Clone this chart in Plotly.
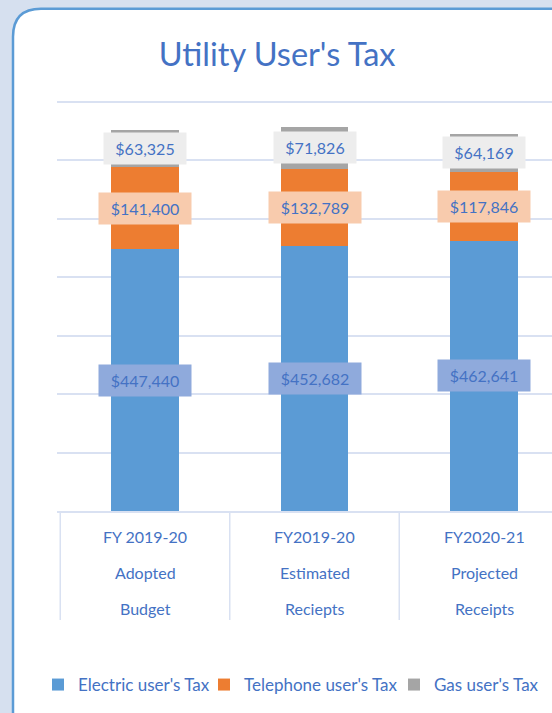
import plotly.graph_objects as go

# data
categories = ["FY 2019-20 Adopted Budget", "FY2019-20 Estimated Reciepts", "FY2020-21 Projected Receipts"]
cat_lines = [["FY 2019-20", "Adopted", "Budget"],
             ["FY2019-20", "Estimated", "Reciepts"],
             ["FY2020-21", "Projected", "Receipts"]]
electric = [447440, 452682, 462641]
telephone = [141400, 132789, 117846]
gas = [63325, 71826, 64169]

series = [
    ("Electric user's Tax", electric, "#5b9bd5", "#8faadc"),
    ("Telephone user's Tax", telephone, "#ed7d31", "#f8cbad"),
    ("Gas user's Tax", gas, "#a5a5a5", "#ededed"),
]
legend_left = [58, 224, 414]   # pixel x of each legend entry

W, H = 552, 713
Y_TOP = 710000
L, R, B = 57, 0, 202
T = (H - B) - 409 * Y_TOP / 700000   # 700k gridline sits at y=102
PW, PH = W - L - R, H - T - B
CAT_W = 169.5
BLUE = "#4472c4"
GRID = "#d9e1f2"
FONT = "Lato"

x0 = -0.5 - (60.25 - L) / CAT_W
xr = [x0, x0 + PW / CAT_W]

fig = go.Figure()
base = [0, 0, 0]
ann = []
legends = {}
for n, (name, vals, col, lab_bg) in enumerate(series):
    lg = "legend" if n == 0 else f"legend{n + 1}"
    fig.add_trace(go.Bar(x=list(range(3)), y=vals, name=name, marker_color=col,
                         marker_line_width=0, width=0.4, legend=lg))
    legends[lg] = dict(xref="container", yref="container",
                       x=(legend_left[n] - 20) / W, xanchor="left",
                       y=1 - 685 / H, yanchor="middle",
                       font=dict(family=FONT, size=17, color=BLUE),
                       bgcolor="rgba(0,0,0,0)")
    for i, v in enumerate(vals):
        txt = f"${v:,}"
        ann.append(dict(x=i, y=base[i] + v / 2, xref="x", yref="y", text=txt,
                        showarrow=False, bgcolor=lab_bg, borderpad=0,
                        width=10 * len(txt) + 12, height=31,
                        font=dict(family=FONT, size=16, color=BLUE)))
        base[i] += v

# category labels (3 lines each)
for i, lines in enumerate(cat_lines):
    for k, t in enumerate(lines):
        ann.append(dict(x=i, y=0, xref="x", yref="paper", yanchor="middle",
                        yshift=-(25 + 36 * k), text=t, showarrow=False,
                        font=dict(family=FONT, size=16, color=BLUE)))

def pxx(p):
    return (p - L) / PW

def pxy(p):
    return (H - B - p) / PH

# card with rounded corners
cx0, cy0, cx1, cy1, rad = 13, 9, 600, 740, 28
path = (f"M {pxx(cx0)},{pxy(cy0 + rad)} "
        f"Q {pxx(cx0)},{pxy(cy0)} {pxx(cx0 + rad)},{pxy(cy0)} "
        f"L {pxx(cx1 - rad)},{pxy(cy0)} "
        f"Q {pxx(cx1)},{pxy(cy0)} {pxx(cx1)},{pxy(cy0 + rad)} "
        f"L {pxx(cx1)},{pxy(cy1 - rad)} "
        f"Q {pxx(cx1)},{pxy(cy1)} {pxx(cx1 - rad)},{pxy(cy1)} "
        f"L {pxx(cx0 + rad)},{pxy(cy1)} "
        f"Q {pxx(cx0)},{pxy(cy1)} {pxx(cx0)},{pxy(cy1 - rad)} Z")
shapes = [dict(type="path", path=path, xref="paper", yref="paper", layer="below",
               fillcolor="white", line=dict(color="#5b9bd5", width=2.5))]

# table lines under the category axis
for b in [-0.5, 0.5, 1.5, 2.5]:
    shapes.append(dict(type="line", xref="x", yref="paper", x0=b, x1=b,
                       y0=0, y1=pxy(620), line=dict(color=GRID, width=1.5)))

fig.update_layout(
    width=W, height=H,
    margin=dict(l=L, r=R, t=T, b=B, autoexpand=False),
    paper_bgcolor="#d6e0ef",
    plot_bgcolor="rgba(0,0,0,0)",
    barmode="stack",
    font=dict(family=FONT, color=BLUE),
    title=dict(text="Utility User's Tax", x=0.502, xanchor="center",
               y=1 - 55 / H, yanchor="middle",
               font=dict(family=FONT, size=32.5, color=BLUE)),
    xaxis=dict(range=xr, showticklabels=False, showgrid=False, zeroline=False,
               showline=True, linecolor=GRID, linewidth=1.5),
    yaxis=dict(range=[0, Y_TOP], tickvals=[100000 * k for k in range(1, 8)],
               showticklabels=False,
               showgrid=True, gridcolor=GRID, gridwidth=1.5, zeroline=False),
    annotations=ann,
    shapes=shapes,
    showlegend=True,
    **legends,
)

# page without the default body margin so the figure fills the window
fig.write_html("out.html", config={"displayModeBar": False},
               post_script="document.body.style.margin='0';")
